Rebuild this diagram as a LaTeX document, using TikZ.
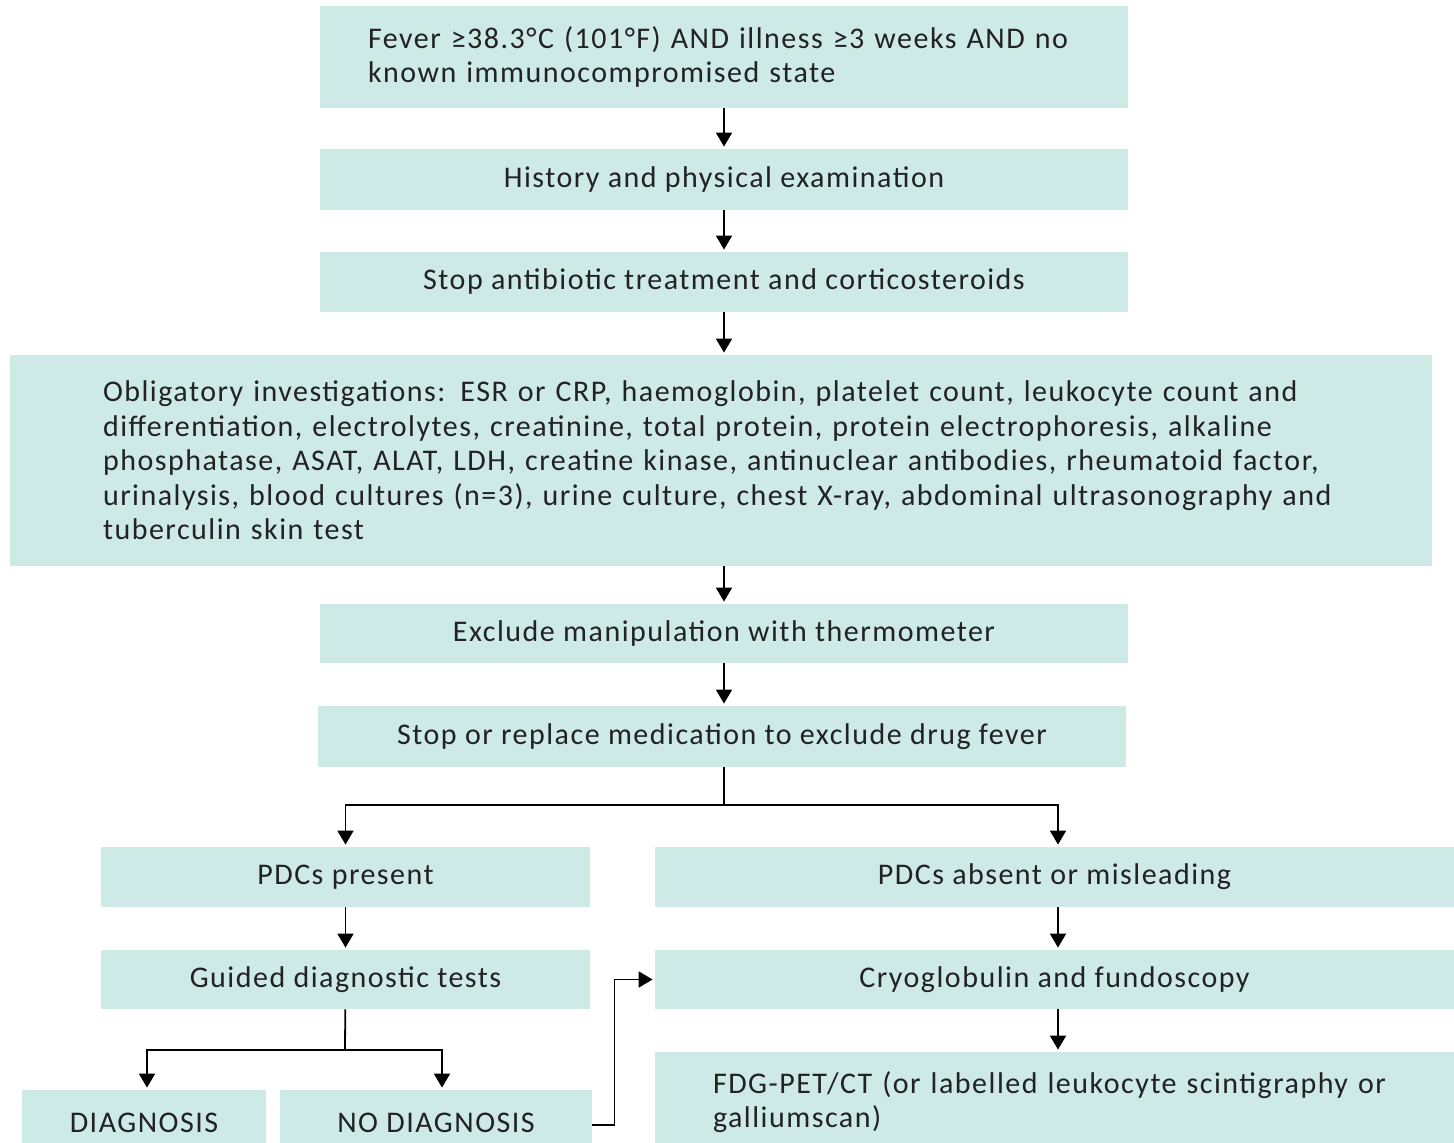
\documentclass[tikz,border=0pt]{standalone}
\usepackage{fontspec}
\setmainfont{Carlito}[LetterSpace=5]
\usepackage{tikz}
\usetikzlibrary{positioning}
\usetikzlibrary{arrows.meta}

\definecolor{boxfill}{RGB}{205,234,230}
\definecolor{textgray}{RGB}{34,34,34}

\tikzset{
    box/.style={fill=boxfill, text=textgray, inner sep=0pt, align=center,
        font=\fontsize{15pt}{17.25pt}\selectfont},
    widebox/.style={box, align=left},
    flow/.style={-{Triangle[width=8pt,length=7pt]}, line width=0.9pt, shorten >=1pt},
    link/.style={line width=0.9pt}
}

\begin{document}
\begin{tikzpicture}[x=0.5pt, y=-0.5pt]
    \useasboundingbox (0,0) rectangle (1454,1143);
    \clip (0,0) rectangle (1454,1143);

    \node[widebox, text width=356pt, inner xsep=24pt, minimum height=51pt] (fever) at (724,57)
        {\mbox{Fever ≥38.3°C (101°F) AND illness ≥3 weeks AND no}\\
         \mbox{known immunocompromised state}};
    \node[box, minimum width=404pt, minimum height=30.5pt] (history) at (724,179.5)
        {History and physical examination};
    \node[box, minimum width=404pt, minimum height=30pt] (stopab) at (724,282)
        {Stop antibiotic treatment and corticosteroids};
    \node[widebox, text width=618pt, inner xsep=46.5pt, minimum height=105.5pt] (oblig) at (721,460.5)
        {\mbox{Obligatory investigations: ESR or CRP, haemoglobin, platelet count, leukocyte count and}\\
         \mbox{differentiation, electrolytes, creatinine, total protein, protein electrophoresis, alkaline}\\
         \mbox{phosphatase, ASAT, ALAT, LDH, creatine kinase, antinuclear antibodies, rheumatoid factor,}\\
         \mbox{urinalysis, blood cultures (n=3), urine culture, chest X-ray, abdominal ultrasonography and}\\
         \mbox{tuberculin skin test}};
    \node[box, minimum width=404pt, minimum height=29.5pt] (exclude) at (724,633.5)
        {Exclude manipulation with thermometer};
    \node[box, minimum width=404pt, minimum height=30.5pt] (stopmed) at (722,736.5)
        {Stop or replace medication to exclude drug fever};

    \node[box, minimum width=244.5pt, minimum height=30pt] (pdcyes) at (345.5,877)
        {PDCs present};
    \node[box, minimum width=399.5pt, minimum height=30pt] (pdcno) at (1054.5,877)
        {PDCs absent or misleading};
    \node[box, minimum width=244.5pt, minimum height=29.5pt] (guided) at (345.5,979.5)
        {Guided diagnostic tests};
    \node[box, minimum width=399.5pt, minimum height=29.5pt] (cryo) at (1054.5,979.5)
        {Cryoglobulin and fundoscopy};
    \node[box, minimum width=122pt, minimum height=33pt] (diag) at (144,1123)
        {DIAGNOSIS};
    \node[box, minimum width=156pt, minimum height=33pt] (nodiag) at (436,1123)
        {NO DIAGNOSIS};
    \node[widebox, text width=341.5pt, inner xsep=29pt, minimum height=50pt] (fdg) at (1054.5,1102)
        {\mbox{FDG-PET/CT (or labelled leukocyte scintigraphy or}\\
         \mbox{galliumscan)}};

    \coordinate (split) at (724,805);
    \coordinate (split2) at (345,1050);

    \draw[flow] (fever) -- (history);
    \draw[flow] (history) -- (stopab);
    \draw[flow] (stopab) -- (stopab |- oblig.north);
    \draw[flow] (oblig.south -| exclude) -- (exclude);
    \draw[flow] (exclude) -- (exclude |- stopmed.north);
    \draw[link] (exclude |- stopmed.south) -- (split);
    \draw[flow] (split) -| (pdcyes);
    \draw[flow] (split) -| ([xshift=1.75pt]pdcno.north);
    \draw[flow] (pdcyes) -- (guided);
    \draw[flow] ([xshift=1.75pt]pdcno.south) -- ([xshift=1.75pt]cryo.north);
    \draw[flow] ([xshift=1.75pt]cryo.south) -- ([xshift=1.75pt]fdg.north);
    \draw[link] (guided) -- (split2);
    \draw[flow] (split2) -| ([xshift=1.5pt]diag.north);
    \draw[flow] (split2) -| ([xshift=3pt]nodiag.north);
    \draw[flow] ([yshift=-1pt]nodiag.east) -- ++(22,0) |- (cryo.west);
\end{tikzpicture}
\end{document}
